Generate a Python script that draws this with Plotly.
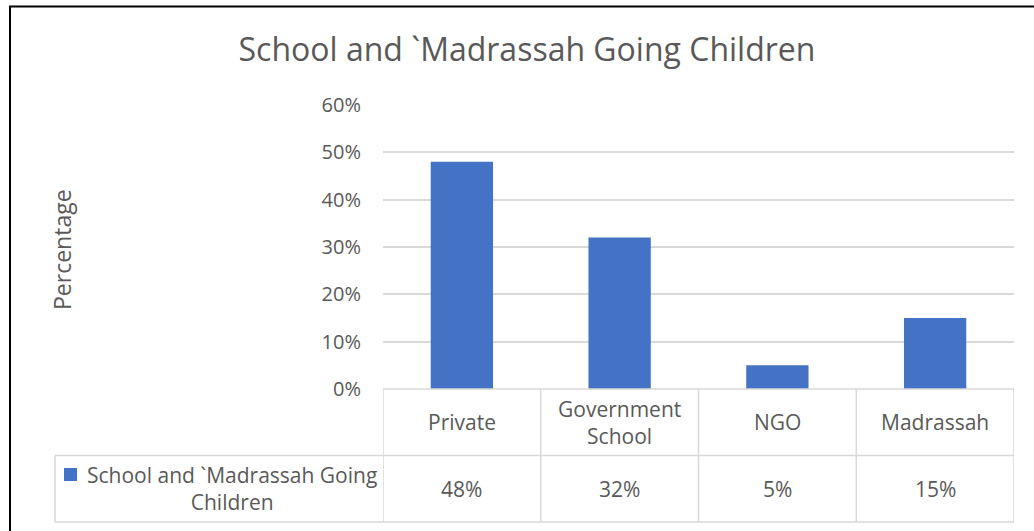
import plotly.graph_objects as go

# Chart data
categories = ["Private", "Government School", "NGO", "Madrassah"]
header_labels = ["Private", "Government<br>School", "NGO", "Madrassah"]
values = [0.48, 0.32, 0.05, 0.15]
value_labels = ["48%", "32%", "5%", "15%"]
series_name = "School and `Madrassah Going Children"
title_text = "School and `Madrassah Going Children"
y_ticks = [0, 0.1, 0.2, 0.3, 0.4, 0.5, 0.6]
y_tick_labels = ["0%", "10%", "20%", "30%", "40%", "50%", "60%"]

W, H = 1034, 531
BAR = "#4472C4"
GRID = "#D9D9D9"
TXT = "#595959"
FONT = "Open Sans"


def px_x(v):
    return v / W


def px_y(v):
    return (H - v) / H


# a hair of headroom so the 60% gridline is drawn at the top edge
y_top = 0.6015
x_dom = [px_x(383), px_x(1014)]
y_dom = [px_y(389), px_y(389 - 284 * y_top / 0.6)]

fig = go.Figure()
fig.add_trace(go.Bar(
    x=list(range(len(categories))), y=values, name=series_name,
    marker=dict(color=BAR, line=dict(width=0)), width=0.395,
    showlegend=False, hoverinfo="skip",
))

n = len(categories)
row_top = px_y(389)
row_mid = px_y(455.5)
row_bot = px_y(522)
legend_left = px_x(55)

shapes = []
line = dict(color=GRID, width=1.5)
# horizontal table lines
shapes.append(dict(type="line", xref="x", yref="paper", x0=-0.5, x1=n - 0.5,
                   y0=row_top, y1=row_top, line=line))
for yy in (row_mid, row_bot):
    shapes.append(dict(type="line", xref="paper", yref="paper", x0=legend_left,
                       x1=x_dom[1], y0=yy, y1=yy, line=line))
# vertical table lines at category boundaries
for i in range(n + 1):
    shapes.append(dict(type="line", xref="x", yref="paper", x0=i - 0.5, x1=i - 0.5,
                       y0=row_top, y1=row_bot, line=line))
shapes.append(dict(type="line", xref="paper", yref="paper", x0=legend_left, x1=legend_left,
                   y0=row_mid, y1=row_bot, line=line))
# legend key
shapes.append(dict(type="rect", xref="paper", yref="paper",
                   x0=px_x(64), x1=px_x(77), y0=px_y(481), y1=px_y(468),
                   fillcolor=BAR, line=dict(width=0)))
# outer chart border (left and top)
shapes.append(dict(type="line", xref="paper", yref="paper", x0=px_x(10), x1=px_x(10),
                   y0=px_y(6), y1=0, line=dict(color="black", width=2)))
shapes.append(dict(type="line", xref="paper", yref="paper", x0=px_x(9), x1=1,
                   y0=px_y(6.5), y1=px_y(6.5), line=dict(color="black", width=2)))


def note(x, y, text, size, xref="paper", angle=0):
    return dict(x=x, y=y, xref=xref, yref="paper", text=text, showarrow=False,
                xanchor="center", yanchor="middle", textangle=angle,
                font=dict(size=size, color=TXT, family=FONT))


annotations = []
for i in range(n):
    annotations.append(note(i, (row_top + row_mid) / 2, header_labels[i], 21, xref="x"))
    annotations.append(note(i, (row_mid + row_bot) / 2, value_labels[i], 21, xref="x"))
annotations.append(note(px_x(232), (row_mid + row_bot) / 2,
                        "School and `Madrassah Going<br>Children", 21))
annotations.append(note(px_x(62), px_y(250), "Percentage", 23, angle=-90))

fig.update_layout(
    width=W, height=H, autosize=False,
    margin=dict(l=0, r=0, t=0, b=0, pad=0, autoexpand=False),
    paper_bgcolor="white", plot_bgcolor="white",
    title=dict(text=title_text, x=px_x(527), xanchor="center", y=px_y(50), yanchor="middle",
               font=dict(size=32, color=TXT, family=FONT)),
    xaxis=dict(domain=x_dom, range=[-0.5, n - 0.5], showticklabels=False, automargin=False,
               showgrid=False, zeroline=False, showline=False, fixedrange=True),
    yaxis=dict(domain=y_dom, range=[0, y_top], tickvals=y_ticks, ticktext=y_tick_labels,
               showgrid=True, gridcolor=GRID, gridwidth=1.5, zeroline=False, automargin=False,
               showline=False, ticks="", ticklabelstandoff=21,
               tickfont=dict(size=20, color=TXT, family=FONT)),
    shapes=shapes,
    annotations=annotations,
    font=dict(family=FONT, color=TXT),
)

fig.write_html("out.html")
